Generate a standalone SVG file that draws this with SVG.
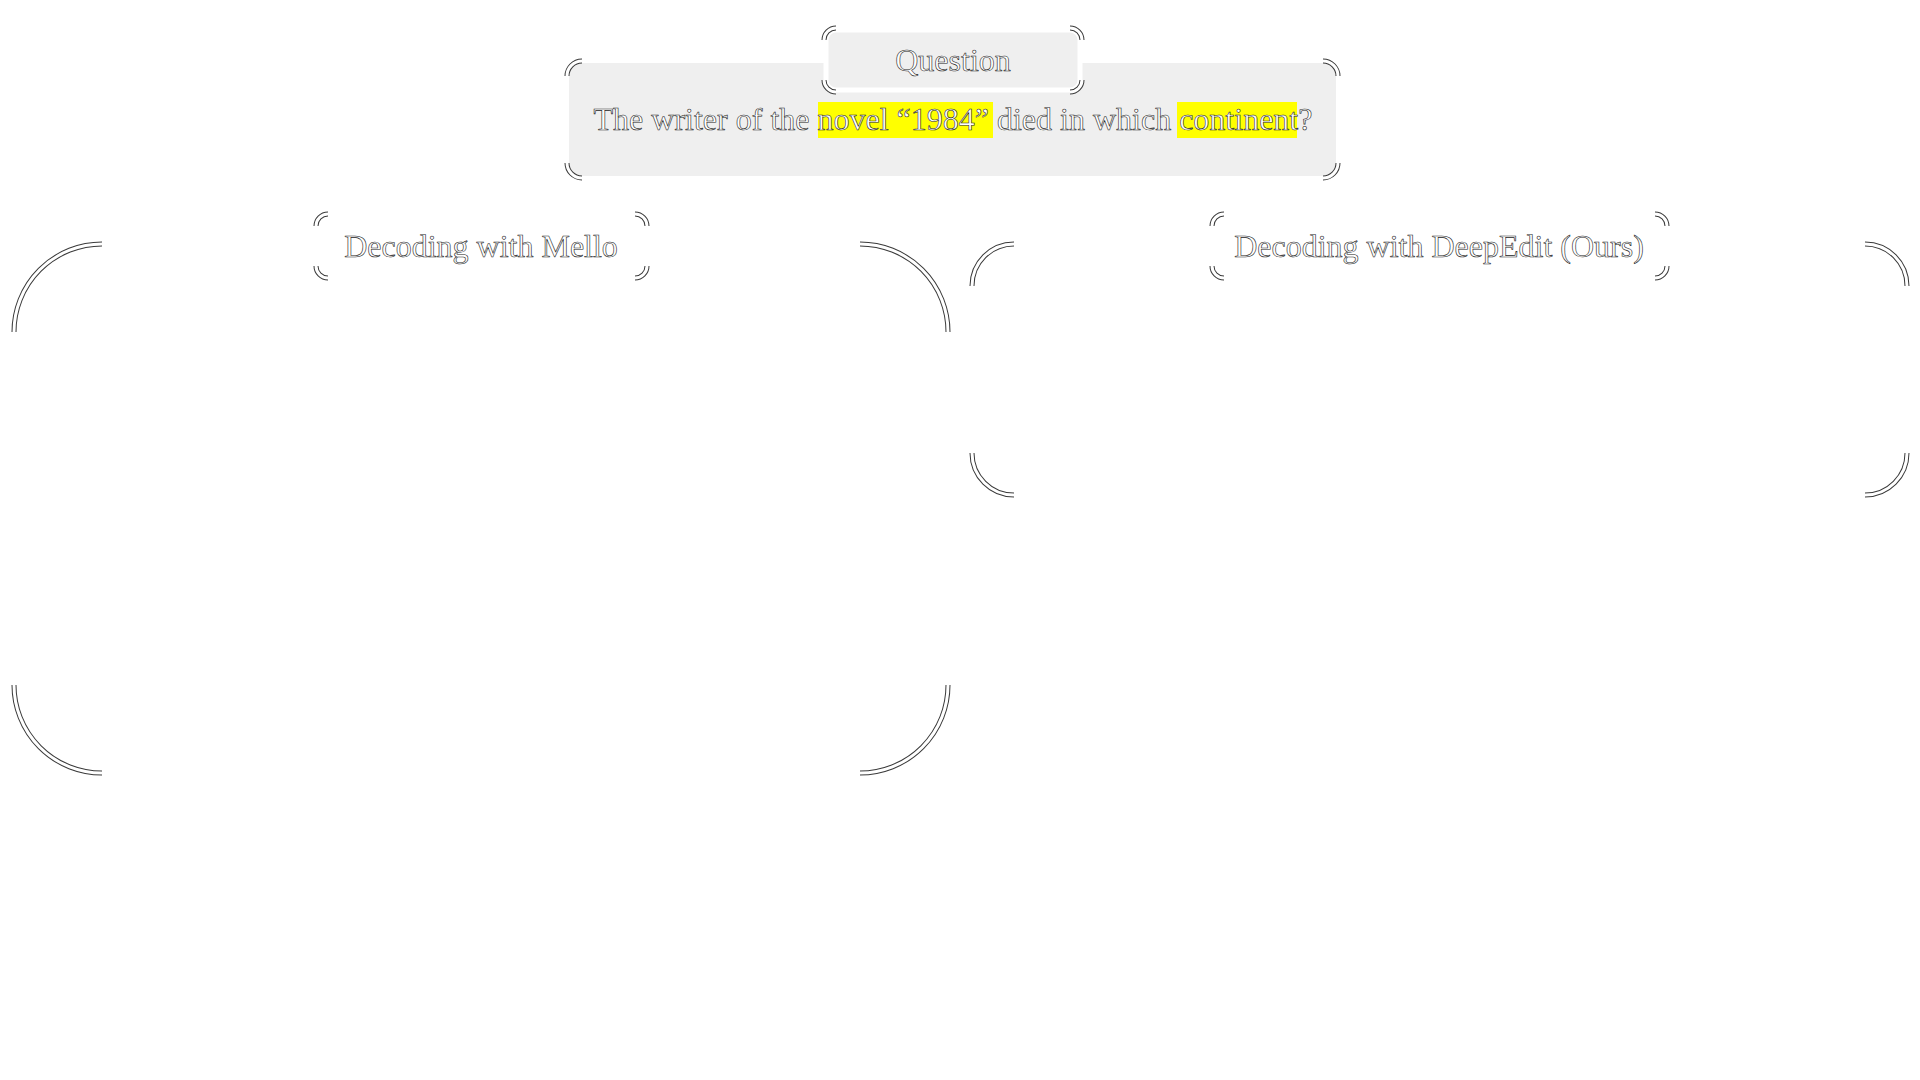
<svg xmlns="http://www.w3.org/2000/svg" width="1920" height="1080" viewBox="0 0 1920 1080">
<style>
  .bg { fill:#ffffff; }
  .fillbox { fill:#efefef; }
  .labelfill { fill:#efefef; stroke:#ffffff; stroke-width:5; }
  .hl { fill:#ffff00; }
  .edge-o { fill:none; stroke:#3a3a3a; stroke-width:5; }
  .edge-i { fill:none; stroke:#ffffff; stroke-width:3; }
  .t { font-family:"Liberation Serif","Times New Roman",serif; font-size:32px; fill:#ffffff; stroke:#222222; stroke-width:0.6; text-anchor:middle; }
</style>
<defs>
  <path id="c-qmain" d="M567,76 A15,15 0 0 1 582,61 M1323,61 A15,15 0 0 1 1338,76 M1338,163 A15,15 0 0 1 1323,178 M582,178 A15,15 0 0 1 567,163"/>
  <path id="c-qlabel" d="M824,40 A12,12 0 0 1 836,28 M1070,28 A12,12 0 0 1 1082,40 M1082,80 A12,12 0 0 1 1070,92 M836,92 A12,12 0 0 1 824,80"/>
  <path id="c-mlabel" d="M316,226 A12,12 0 0 1 328,214 M635,214 A12,12 0 0 1 647,226 M647,266 A12,12 0 0 1 635,278 M328,278 A12,12 0 0 1 316,266"/>
  <path id="c-dlabel" d="M1212,226 A12,12 0 0 1 1224,214 M1655,214 A12,12 0 0 1 1667,226 M1667,266 A12,12 0 0 1 1655,278 M1224,278 A12,12 0 0 1 1212,266"/>
  <path id="c-mpanel" d="M14,332 A88,88 0 0 1 102,244 M860,244 A88,88 0 0 1 948,332 M948,685 A88,88 0 0 1 860,773 M102,773 A88,88 0 0 1 14,685"/>
  <path id="c-dpanel" d="M972,286 A42,42 0 0 1 1014,244 M1865,244 A42,42 0 0 1 1907,286 M1907,453 A42,42 0 0 1 1865,495 M1014,495 A42,42 0 0 1 972,453"/>
</defs>
<rect class="bg" x="0" y="0" width="1920" height="1080"/>

<g id="connectors"></g>

<g id="question">
  <rect class="fillbox" x="569" y="63" width="767" height="113" rx="13"/>
  <use href="#c-qmain" class="edge-o"/>
  <use href="#c-qmain" class="edge-i"/>
  <rect class="hl" x="818" y="102" width="175" height="36"/>
  <rect class="hl" x="1177" y="102" width="120" height="36"/>
  <text class="t" x="953" y="130">The writer of the novel “1984” died in which continent?</text>
</g>

<g id="question-label">
  <rect class="labelfill" x="826" y="30" width="254" height="60" rx="10"/>
  <use href="#c-qlabel" class="edge-o"/>
  <use href="#c-qlabel" class="edge-i"/>
  <text class="t" x="953" y="71">Question</text>
</g>

<g id="mello-panel">
  <use href="#c-mpanel" class="edge-o"/>
  <use href="#c-mpanel" class="edge-i"/>
</g>

<g id="mello-label">
  <use href="#c-mlabel" class="edge-o"/>
  <use href="#c-mlabel" class="edge-i"/>
  <text class="t" x="481" y="257">Decoding with Mello</text>
</g>

<g id="deepedit-panel">
  <use href="#c-dpanel" class="edge-o"/>
  <use href="#c-dpanel" class="edge-i"/>
</g>

<g id="deepedit-label">
  <use href="#c-dlabel" class="edge-o"/>
  <use href="#c-dlabel" class="edge-i"/>
  <text class="t" x="1439" y="257">Decoding with DeepEdit (Ours)</text>
</g>
</svg>
